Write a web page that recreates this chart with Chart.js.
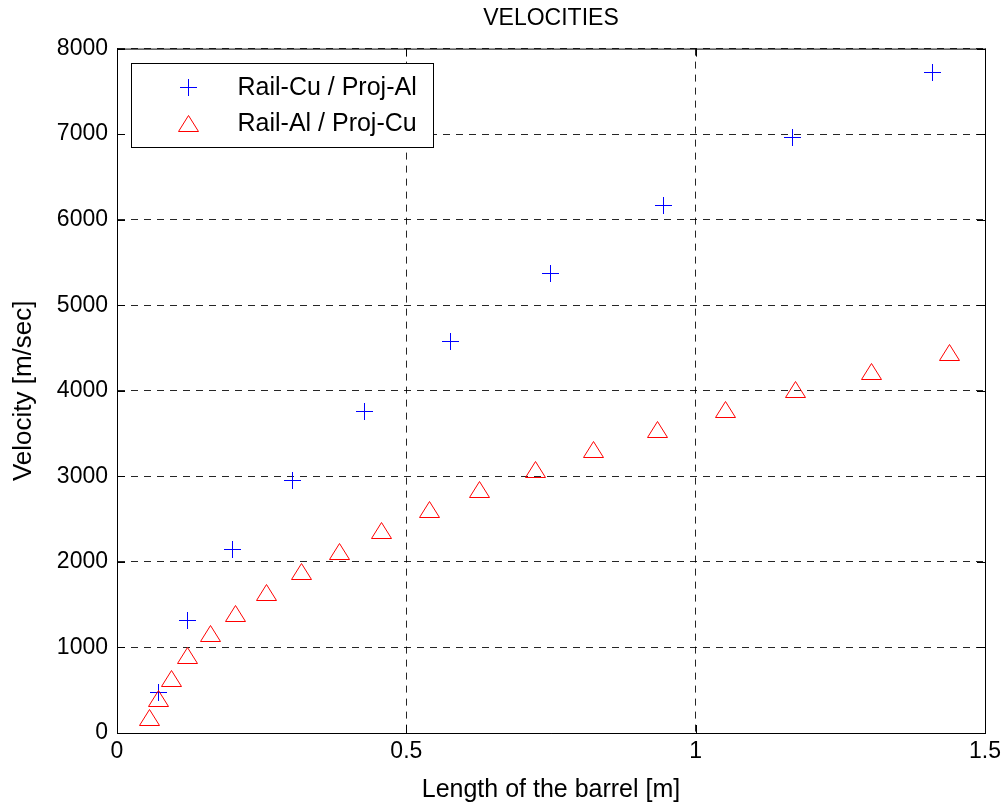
<!DOCTYPE html>
<html>
<head>
<meta charset="utf-8">
<title>Velocities</title>
<script src="https://cdn.jsdelivr.net/npm/chart.js@4.4.0/dist/chart.umd.min.js"></script>
<style>
    html, body { margin: 0; padding: 0; background: #fff; }
    #wrap { width: 1007px; height: 805px; }
</style>
</head>
<body>
<div id="wrap"><canvas id="velocityChart"></canvas></div>
<script>
// Rail-Cu / Proj-Al : barrel length [m] and velocity [m/sec]
const cuAlLength = [0.070, 0.1215, 0.198, 0.303, 0.426, 0.575, 0.748, 0.944, 1.166, 1.408];
const cuAlVelocity = [483, 1321, 2148, 2959, 3766, 4577, 5376, 6172, 6967, 7731];

// Rail-Al / Proj-Cu
const alCuLength = [0.056, 0.070, 0.093, 0.1215, 0.160, 0.2045, 0.257, 0.318, 0.384, 0.457,
    0.540, 0.626, 0.723, 0.823, 0.933, 1.051, 1.172, 1.303, 1.437];
const alCuVelocity = [183, 411, 646, 908, 1166, 1398, 1653, 1891, 2125, 2378,
    2618, 2850, 3082, 3314, 3553, 3784, 4018, 4230, 4456];

const seriesLabels = ['Rail-Cu / Proj-Al', 'Rail-Al / Proj-Cu'];
const xTickValues = [0, 0.5, 1, 1.5];
const yTickValues = [0, 1000, 2000, 3000, 4000, 5000, 6000, 7000, 8000];

const FONT = "'Liberation Sans', Arial, Helvetica, sans-serif";

function toPoints(xs, ys) {
    return xs.map((x, i) => ({ x: x, y: ys[i] }));
}

// pixel-snapped plus / open triangle, centred on (x, y)
function drawMarker(g, shape, color, x, y) {
    const cx = Math.round(x) + 0.5;
    const cy = Math.round(y) + 0.5;
    g.save();
    g.strokeStyle = color;
    g.lineWidth = 1;
    g.beginPath();
    if (shape === 'plus') {
        g.moveTo(cx - 8.5, cy);
        g.lineTo(cx + 8.5, cy);
        g.moveTo(cx, cy - 8.5);
        g.lineTo(cx, cy + 8.5);
    } else {
        g.moveTo(cx, cy - 8);
        g.lineTo(cx + 10, cy + 8);
        g.lineTo(cx - 10, cy + 8);
        g.closePath();
    }
    g.stroke();
    g.restore();
}

// markers are drawn at the positions the scatter controller computed
const markers = {
    id: 'markers',
    afterDatasetsDraw(chart) {
        chart.data.datasets.forEach((ds, i) => {
            chart.getDatasetMeta(i).data.forEach(el => {
                drawMarker(chart.ctx, ds.marker, ds.markerColor, el.x, el.y);
            });
        });
    }
};

// top/right frame lines and the short inward tick marks
const axesFrame = {
    id: 'axesFrame',
    afterDraw(chart) {
        const { ctx, chartArea: a, scales } = chart;
        const len = 8;
        ctx.save();
        ctx.strokeStyle = '#000';
        ctx.lineWidth = 1;
        ctx.beginPath();
        ctx.moveTo(a.left, a.top + 0.5);
        ctx.lineTo(a.right + 0.5, a.top + 0.5);
        ctx.lineTo(a.right + 0.5, a.bottom);
        scales.x.ticks.forEach(t => {
            const px = Math.round(scales.x.getPixelForValue(t.value)) + 0.5;
            ctx.moveTo(px, a.bottom);
            ctx.lineTo(px, a.bottom - len);
            ctx.moveTo(px, a.top);
            ctx.lineTo(px, a.top + len);
        });
        scales.y.ticks.forEach(t => {
            const py = Math.round(scales.y.getPixelForValue(t.value)) + 0.5;
            ctx.moveTo(a.left, py);
            ctx.lineTo(a.left + len, py);
            ctx.moveTo(a.right, py);
            ctx.lineTo(a.right - len, py);
        });
        ctx.stroke();
        ctx.restore();
    }
};

// boxed legend in the upper-left corner of the plot
const boxLegend = {
    id: 'boxLegend',
    afterDraw(chart) {
        const { ctx, chartArea: a } = chart;
        const x0 = Math.round(a.left) + 14.5;
        const y0 = Math.round(a.top) + 14.5;
        const w = 302, h = 84;
        ctx.save();
        ctx.fillStyle = '#fff';
        ctx.fillRect(x0, y0, w, h);
        ctx.strokeStyle = '#000';
        ctx.lineWidth = 1;
        ctx.strokeRect(x0, y0, w, h);

        const mx = x0 + 56;
        const rows = [y0 + 23, y0 + 59];
        ctx.font = '25px ' + FONT;
        ctx.textBaseline = 'middle';
        ctx.textAlign = 'left';
        chart.data.datasets.forEach((d, i) => {
            drawMarker(ctx, d.marker, d.markerColor, mx, rows[i]);
            ctx.fillStyle = '#000';
            ctx.fillText(d.label, x0 + 106, rows[i] + 2);
        });
        ctx.restore();
    }
};

const ctx = document.getElementById('velocityChart').getContext('2d');

const chart = new Chart(ctx, {
    type: 'scatter',
    data: {
        datasets: [{
            label: seriesLabels[0],
            data: toPoints(cuAlLength, cuAlVelocity),
            marker: 'plus',
            markerColor: '#0000ff',
            pointRadius: 0,
            showLine: false
        }, {
            label: seriesLabels[1],
            data: toPoints(alCuLength, alCuVelocity),
            marker: 'triangle',
            markerColor: '#ff0000',
            pointRadius: 0,
            showLine: false
        }]
    },
    options: {
        animation: false,
        responsive: true,
        maintainAspectRatio: false,
        events: [],
        layout: {
            padding: { top: 0, right: 22, bottom: 0, left: 0 }
        },
        plugins: {
            legend: { display: false },
            tooltip: { enabled: false },
            title: {
                display: true,
                text: 'VELOCITIES',
                fullSize: false,
                color: '#000',
                font: { family: FONT, size: 23, weight: 'normal', lineHeight: 1.2 },
                padding: { top: 5, bottom: 16 }
            }
        },
        scales: {
            x: {
                type: 'linear',
                min: 0,
                max: 1.5,
                afterBuildTicks: (scale) => {
                    scale.ticks = xTickValues.map(v => ({ value: v }));
                },
                afterFit: (scale) => { scale.height = 72; },
                ticks: {
                    color: '#000',
                    font: { family: FONT, size: 23 },
                    padding: 5,
                    maxRotation: 0,
                    callback: (v) => String(v)
                },
                grid: {
                    color: 'rgba(0, 0, 0, 0.85)',
                    lineWidth: 1,
                    drawTicks: false
                },
                border: { display: true, color: '#000', width: 1, dash: [7, 6] },
                title: {
                    display: true,
                    text: 'Length of the barrel [m]',
                    color: '#000',
                    font: { family: FONT, size: 25, lineHeight: 1.2 },
                    padding: { top: 0, bottom: 0 }
                }
            },
            y: {
                type: 'linear',
                min: 0,
                max: 8000,
                afterBuildTicks: (scale) => {
                    scale.ticks = yTickValues.map(v => ({ value: v }));
                },
                afterFit: (scale) => { scale.width = 117; },
                ticks: {
                    color: '#000',
                    font: { family: FONT, size: 23 },
                    padding: 9,
                    callback: (v) => String(v)
                },
                grid: {
                    color: 'rgba(0, 0, 0, 0.85)',
                    lineWidth: 1,
                    drawTicks: false
                },
                border: { display: true, color: '#000', width: 1, dash: [7, 6] },
                title: {
                    display: true,
                    text: 'Velocity [m/sec]',
                    color: '#000',
                    font: { family: FONT, size: 26, lineHeight: 1.2 },
                    padding: { top: 8, bottom: 0 }
                }
            }
        }
    },
    plugins: [markers, axesFrame, boxLegend]
});
</script>
</body>
</html>
